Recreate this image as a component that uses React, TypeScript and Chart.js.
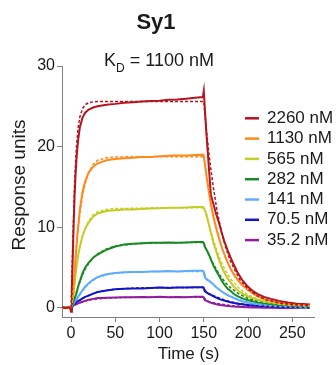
import React, { useEffect, useRef } from 'react';
import { Chart, registerables } from 'chart.js';

Chart.register(...registerables);

// ---- data ----
const TIME = [
  -10, -6, -3, -1, 0, 1, 2, 3, 4, 5, 6, 7, 8, 10, 13, 16, 20, 25, 30, 35, 40,
  50, 60, 70, 80, 90, 100, 110, 120, 130, 140, 149, 150,
  151, 153, 155, 158, 161, 164, 167, 170, 173, 177, 180, 184, 188, 193, 199, 205, 211, 218, 226, 235, 245, 255, 262, 270,
];

const C2260 = [
  0.05, -0.05, 0.05, 0.0, -0.5, 2.5, 6.5, 10.5, 13.8, 16.3, 18.2, 19.6, 20.8, 22.4, 23.6, 24.2, 24.6, 24.85, 25.0, 25.1, 25.2,
  25.3, 25.45, 25.5, 25.6, 25.65, 25.7, 25.8, 25.85, 25.95, 26.05, 26.15, 26.9,
  25.0, 21.5, 18.5, 14.0, 12.8, 11.6, 10.6, 9.4, 8.3, 7.1, 6.3, 5.3, 4.4, 3.5, 2.7, 2.1, 1.7, 1.35, 1.1, 0.85, 0.65, 0.5, 0.45, 0.4,
];
const C1130 = [
  0, 0.05, 0, 0.05, -0.3, 0.5, 1.3, 2.6, 4.2, 5.9, 7.4, 8.8, 10.0, 12.2, 14.4, 15.7, 16.8, 17.5, 17.9, 18.1, 18.3,
  18.45, 18.55, 18.6, 18.7, 18.7, 18.8, 18.85, 18.9, 18.9, 18.95, 19.0, 18.9,
  18.0, 16.4, 14.9, 12.8, 11.2, 9.9, 8.7, 7.6, 6.7, 5.6, 4.9, 4.1, 3.5, 2.85, 2.3, 1.8, 1.4, 1.1, 0.85, 0.65, 0.5, 0.4, 0.35, 0.3,
];
const C565 = [
  0, 0, 0.05, 0, -0.2, 0.4, 1.0, 1.8, 2.9, 4.0, 5.0, 5.8, 6.5, 7.6, 8.9, 9.8, 10.6, 11.3, 11.7, 11.85, 12.0,
  12.1, 12.2, 12.2, 12.25, 12.3, 12.35, 12.4, 12.4, 12.45, 12.5, 12.5, 12.4,
  12.1, 11.6, 10.7, 9.3, 8.0, 7.0, 6.0, 5.1, 4.4, 3.6, 3.2, 2.6, 2.2, 1.8, 1.45, 1.2, 1.0, 0.8, 0.6, 0.45, 0.35, 0.25, 0.2, 0.15,
];
const C282 = [
  0, 0.05, 0, 0, -0.1, 0.2, 0.5, 0.8, 1.1, 1.4, 1.7, 2.2, 2.6, 3.3, 4.3, 5.0, 5.6, 6.2, 6.6, 6.9, 7.2,
  7.6, 7.85, 7.95, 8.0, 8.05, 8.05, 8.1, 8.05, 8.1, 8.15, 8.15, 8.0,
  7.6, 7.2, 6.8, 6.0, 5.2, 4.6, 4.0, 3.4, 2.9, 2.35, 2.1, 1.7, 1.45, 1.2, 0.95, 0.8, 0.65, 0.5, 0.4, 0.3, 0.25, 0.2, 0.15, 0.1,
];
const C141 = [
  0, 0, 0.05, 0, -0.1, 0.15, 0.3, 0.5, 0.7, 0.85, 1.0, 1.2, 1.35, 1.7, 2.2, 2.6, 3.05, 3.5, 3.8, 4.0, 4.15,
  4.3, 4.4, 4.45, 4.45, 4.5, 4.5, 4.55, 4.5, 4.55, 4.6, 4.6, 4.4,
  3.8, 3.55, 3.4, 3.2, 2.9, 2.55, 2.3, 2.05, 1.8, 1.55, 1.4, 1.2, 1.0, 0.8, 0.65, 0.5, 0.4, 0.3, 0.2, 0.15, 0.1, 0.05, 0.0, 0.0,
];
const C70 = [
  0, 0, 0, 0.05, 0, 0.1, 0.25, 0.4, 0.5, 0.6, 0.7, 0.78, 0.85, 0.95, 1.15, 1.35, 1.5, 1.75, 1.95, 2.05, 2.15,
  2.3, 2.35, 2.4, 2.4, 2.45, 2.5, 2.45, 2.5, 2.5, 2.55, 2.55, 2.45,
  2.05, 1.9, 1.75, 1.6, 1.4, 1.25, 1.1, 0.98, 0.88, 0.77, 0.68, 0.58, 0.5, 0.42, 0.35, 0.28, 0.22, 0.18, 0.14, 0.1, 0.08, 0.05, 0.05, 0.05,
];
const C35 = [
  0, 0, 0, 0, 0, 0.1, 0.2, 0.3, 0.35, 0.4, 0.45, 0.5, 0.55, 0.65, 0.75, 0.85, 1.0, 1.1, 1.2, 1.22, 1.25,
  1.28, 1.3, 1.3, 1.32, 1.3, 1.35, 1.3, 1.32, 1.3, 1.35, 1.35, 1.25,
  0.95, 0.85, 0.75, 0.62, 0.52, 0.44, 0.38, 0.32, 0.27, 0.22, 0.18, 0.14, 0.11, 0.08, 0.05, 0.03, 0.02, 0.0, 0.0, -0.02, -0.02, -0.03, -0.03, -0.03,
];

const FIT_TIME = [0, 2, 4, 6, 8, 10, 13, 16, 20, 25, 30, 40, 50, 75, 100, 125, 150, 153, 156, 160, 165, 170, 175, 180, 190, 200, 210, 220, 235, 250, 270];
const FIT2260 = [0, 8, 15.5, 19.8, 22.3, 23.7, 24.7, 25.2, 25.45, 25.55, 25.6, 25.6, 25.6, 25.6, 25.6, 25.6, 25.6, 22.0, 18.9, 15.5, 12.0, 9.4, 7.4, 5.8, 3.6, 2.3, 1.5, 1.0, 0.6, 0.4, 0.3];
const FIT1130 = [0, 1.8, 4.8, 7.5, 9.8, 11.7, 13.9, 15.4, 16.8, 17.8, 18.3, 18.6, 18.7, 18.75, 18.75, 18.75, 18.75, 16.5, 14.4, 12.0, 9.5, 7.6, 6.1, 4.9, 3.2, 2.15, 1.45, 1.0, 0.6, 0.4, 0.3];
const FIT565 = [0, 1.1, 3.0, 4.8, 6.3, 7.5, 8.9, 9.9, 10.8, 11.5, 11.9, 12.2, 12.3, 12.35, 12.4, 12.4, 12.4, 11.4, 10.2, 8.7, 7.0, 5.6, 4.5, 3.6, 2.4, 1.6, 1.1, 0.75, 0.45, 0.3, 0.2];
const FIT282 = [0, 0.5, 1.2, 1.9, 2.6, 3.2, 4.1, 4.8, 5.5, 6.2, 6.7, 7.3, 7.65, 7.95, 8.05, 8.08, 8.1, 7.2, 6.5, 5.6, 4.6, 3.75, 3.05, 2.5, 1.7, 1.15, 0.8, 0.55, 0.35, 0.22, 0.15];
const FIT141 = [0, 0.3, 0.65, 1.0, 1.3, 1.6, 2.1, 2.5, 2.95, 3.4, 3.75, 4.1, 4.3, 4.45, 4.5, 4.5, 4.5, 3.6, 3.3, 2.9, 2.45, 2.05, 1.7, 1.45, 1.0, 0.7, 0.5, 0.35, 0.2, 0.12, 0.08];
const FIT70 = [0, 0.2, 0.45, 0.65, 0.8, 0.95, 1.15, 1.35, 1.55, 1.75, 1.95, 2.15, 2.3, 2.45, 2.5, 2.5, 2.5, 1.9, 1.75, 1.55, 1.3, 1.1, 0.9, 0.75, 0.52, 0.36, 0.25, 0.17, 0.1, 0.06, 0.04];
const FIT35 = [0, 0.15, 0.3, 0.42, 0.52, 0.6, 0.72, 0.82, 0.93, 1.03, 1.1, 1.2, 1.25, 1.3, 1.3, 1.3, 1.3, 0.88, 0.78, 0.66, 0.53, 0.43, 0.35, 0.28, 0.18, 0.12, 0.08, 0.05, 0.03, 0.02, 0.01];

const CONC_LABELS = ['2260 nM', '1130 nM', '565 nM', '282 nM', '141 nM', '70.5 nM', '35.2 nM'];
const SERIES = [C2260, C1130, C565, C282, C141, C70, C35];
const FITS = [FIT2260, FIT1130, FIT565, FIT282, FIT141, FIT70, FIT35];
const COLORS = ['#b3141d', '#ff8a1c', '#c6cc24', '#1a8a22', '#5eacff', '#1414c4', '#8e1e9e'];

const X_TICKS = [0, 50, 100, 150, 200, 250];
const Y_TICKS = [0, 10, 20, 30];

const TITLE = 'Sy1';
const X_TITLE = 'Time (s)';
const Y_TITLE = 'Response units';

const FONT = "'Liberation Sans', Arial, sans-serif";
const TEXT = '#1a1a1a';
const AXIS = '#808080';

const decor = {
  id: 'decor',
  afterDraw(chart: any) {
    const ctx = chart.ctx as CanvasRenderingContext2D;
    ctx.save();
    ctx.fillStyle = TEXT;
    ctx.textBaseline = 'middle';

    // Title
    ctx.textAlign = 'center';
    ctx.font = `bold 22px ${FONT}`;
    ctx.fillText(TITLE, 156, 23);

    // K_D subtitle
    ctx.textAlign = 'left';
    const big = `18px ${FONT}`;
    const small = `12px ${FONT}`;
    const rest = ' = 1100 nM';
    ctx.font = big;
    const wK = ctx.measureText('K').width;
    const wRest = ctx.measureText(rest).width;
    ctx.font = small;
    const wD = ctx.measureText('D').width;
    const total = wK + wD + wRest;
    let x = 159 - total / 2;
    ctx.font = big;
    ctx.fillText('K', x, 61.5);
    x += wK;
    ctx.font = small;
    ctx.fillText('D', x, 68.5);
    x += wD;
    ctx.font = big;
    ctx.fillText(rest, x, 61.5);

    // axis titles
    ctx.textAlign = 'center';
    ctx.font = `17px ${FONT}`;
    ctx.fillText(X_TITLE, 188.5, 354);
    ctx.save();
    ctx.translate(19.5, 185);
    ctx.rotate(-Math.PI / 2);
    ctx.font = `19px ${FONT}`;
    ctx.fillText(Y_TITLE, 0, 0);
    ctx.restore();

    // legend
    ctx.textAlign = 'left';
    ctx.font = `17px ${FONT}`;
    CONC_LABELS.forEach((lab, i) => {
      const y = 118.3 + i * 20.3;
      ctx.strokeStyle = COLORS[i];
      ctx.lineWidth = 2.5;
      ctx.beginPath();
      ctx.moveTo(245, y);
      ctx.lineTo(259, y);
      ctx.stroke();
      ctx.fillStyle = TEXT;
      ctx.fillText(lab, 267, y);
    });
    ctx.restore();
  },
};

export default function App() {
  const ref = useRef<HTMLCanvasElement>(null);

  useEffect(() => {
    document.body.style.margin = '0';
    const canvas = ref.current;
    if (!canvas) return;
    const pts = (xs: number[], ys: number[]) => xs.map((x, i) => ({ x, y: ys[i] }));

    const fitSets = FITS.map((ys, i) => ({
      label: CONC_LABELS[i] + ' fit',
      data: pts(FIT_TIME, ys),
      borderColor: COLORS[i],
      borderWidth: 1.5,
      borderDash: [3, 2],
      pointRadius: 0,
      fill: false,
      tension: 0,
    }));
    const dataSets = SERIES.map((ys, i) => ({
      label: CONC_LABELS[i],
      data: pts(TIME, ys),
      borderColor: COLORS[i],
      borderWidth: 2,
      pointRadius: 0,
      fill: false,
      tension: 0,
    }));

    const tickFont = { family: FONT, size: 16 };

    const chart = new Chart(canvas, {
      type: 'line',
      data: { datasets: [...fitSets, ...dataSets] as any },
      options: {
        animation: false,
        responsive: false,
        devicePixelRatio: 1,
        layout: { padding: { top: 66, right: 22, left: 0, bottom: 0 } },
        plugins: {
          legend: { display: false },
          tooltip: { enabled: false },
          title: { display: false },
        },
        scales: {
          x: {
            type: 'linear',
            min: -10.2,
            max: 274.5,
            afterBuildTicks: (s: any) => {
              s.ticks = X_TICKS.map((v) => ({ value: v }));
            },
            afterFit: (s: any) => {
              s.height = 48;
            },
            grid: { display: true, drawOnChartArea: false, drawTicks: true, tickLength: 5, color: AXIS, tickColor: AXIS },
            border: { display: true, color: AXIS, width: 1 },
            ticks: { font: tickFont, color: TEXT, padding: 2, maxRotation: 0, autoSkip: false },
            title: { display: false },
          },
          y: {
            type: 'linear',
            min: -1.15,
            max: 30,
            afterBuildTicks: (s: any) => {
              s.ticks = Y_TICKS.map((v) => ({ value: v }));
            },
            afterFit: (s: any) => {
              s.width = 62;
            },
            grid: { display: true, drawOnChartArea: false, drawTicks: true, tickLength: 5, color: AXIS, tickColor: AXIS },
            border: { display: true, color: AXIS, width: 1 },
            ticks: { font: tickFont, color: TEXT, padding: 2, autoSkip: false },
            title: { display: false },
          },
        },
      } as any,
      plugins: [decor],
    });
    return () => chart.destroy();
  }, []);

  return (
    <div style={{ width: 336, height: 365 }}>
      <canvas ref={ref} width={336} height={365} style={{ display: 'block' }} />
    </div>
  );
}
